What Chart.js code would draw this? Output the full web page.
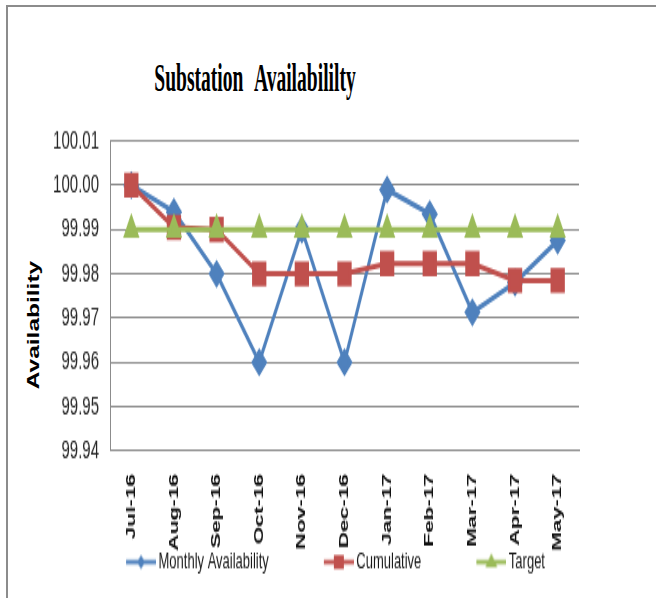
<!DOCTYPE html>
<html>
<head>
<meta charset="utf-8">
<script src="https://cdn.jsdelivr.net/npm/chart.js@4"></script>
<style>
  html, body { margin: 0; padding: 0; background: #fff; }
  body { width: 656px; height: 598px; position: relative; overflow: hidden; }
  #frame { position: absolute; left: 6px; top: 5px; width: 700px; height: 700px;
           border-top: 2px solid #8c8c8c; border-left: 2px solid #8c8c8c; }
  /* the reference is stretched vertically, so the chart is drawn short and scaled */
  #myChart { position: absolute; left: 0; top: 0; transform: scaleY(1.7485); transform-origin: 0 0; }
  #title { position: absolute; left: 0; top: 58px; width: 510px; text-align: center; white-space: nowrap;
           font: bold 23px "Liberation Serif", "Times New Roman", serif; line-height: 1; word-spacing: 8px;
           color: #000; transform: scale(0.85, 1.75); transform-origin: 50% 0; }
  #ytitle { position: absolute; left: 33px; top: 325px; white-space: nowrap;
            font: bold 14px "Liberation Sans", Arial, sans-serif; line-height: 1; color: #000;
            transform: translate(-50%, -50%) scale(1.15, 1.75) rotate(-90deg); }
</style>
</head>
<body>
<div id="frame"></div>
<div id="title">Substation Availabililty</div>
<div id="ytitle">Availability</div>
<canvas id="myChart" width="656" height="342"></canvas>
<script>
// months on the x axis
const months = ['Jul-16', 'Aug-16', 'Sep-16', 'Oct-16', 'Nov-16', 'Dec-16',
                'Jan-17', 'Feb-17', 'Mar-17', 'Apr-17', 'May-17'];

// values
const monthly = [100.000, 99.994, 99.980, 99.960, 99.990, 99.960, 99.999, 99.9935, 99.9713, 99.978, 99.9875];
const cumulative = [100.000, 99.9905, 99.990, 99.980, 99.980, 99.980, 99.9823, 99.9823, 99.9823, 99.9785, 99.9785];
const target = [99.99, 99.99, 99.99, 99.99, 99.99, 99.99, 99.99, 99.99, 99.99, 99.99, 99.99];

const seriesNames = ['Monthly Availability', 'Cumulative', 'Target'];
const yMin = 99.94;
const yMax = 100.01;

const blue = '#4f81bd';
const red = '#c0504d';
const green = '#9bbb59';

const legendBox = 81;

/**
 * Small legend icon: a short line with the marker in its middle,
 * drawn at the right end of a wider transparent canvas for spacing
 */
function legendIcon(color, shape) {
    let c = document.createElement('canvas');
    c.width = legendBox + 8;
    c.height = 16;
    let g = c.getContext('2d');
    let x0 = c.width - 30, xm = c.width - 15, ym = 8;
    g.strokeStyle = color;
    g.lineWidth = 2.5;
    g.beginPath(); g.moveTo(x0, ym); g.lineTo(c.width, ym); g.stroke();
    g.fillStyle = color;
    g.beginPath();
    if (shape == 'diamond') {
        g.moveTo(xm, ym - 4); g.lineTo(xm + 4, ym); g.lineTo(xm, ym + 4); g.lineTo(xm - 4, ym);
    } else if (shape == 'square') {
        g.rect(xm - 5, ym - 4, 10, 8);
    } else {
        g.moveTo(xm, ym - 5); g.lineTo(xm + 6, ym + 3); g.lineTo(xm - 6, ym + 3);
    }
    g.closePath();
    g.fill();
    return c;
}
const icons = [legendIcon(blue, 'diamond'), legendIcon(red, 'square'), legendIcon(green, 'triangle')];

let ctx = document.getElementById('myChart').getContext('2d');
let myChart = new Chart(ctx, {
    type: 'line',
    data: {
        labels: months,
        datasets: [{
            label: seriesNames[0],
            data: monthly,
            borderColor: blue,
            backgroundColor: blue,
            borderWidth: 3,
            pointStyle: 'rectRot',
            pointRadius: 6,
            order: 3
        }, {
            label: seriesNames[1],
            data: cumulative,
            borderColor: red,
            backgroundColor: red,
            borderWidth: 3,
            pointStyle: 'rect',
            pointRadius: 8,
            order: 2
        }, {
            label: seriesNames[2],
            data: target,
            borderColor: green,
            backgroundColor: green,
            borderWidth: 3,
            pointStyle: 'triangle',
            pointRadius: 6.5,
            order: 1
        }]
    },
    options: {
        responsive: false,
        animation: false,
        layout: { padding: { left: 37, right: 77, top: 80.6, bottom: 4.1 } },
        plugins: {
            tooltip: { enabled: false },
            legend: {
                position: 'bottom',
                labels: {
                    usePointStyle: true,
                    pointStyleWidth: legendBox,
                    padding: 0,
                    color: '#1a1a1a',
                    font: { family: 'Liberation Sans', size: 13 },
                    sort: (a, b) => a.datasetIndex - b.datasetIndex,
                    generateLabels: function (chart) {
                        let items = Chart.defaults.plugins.legend.labels.generateLabels(chart);
                        items.forEach(it => { it.pointStyle = icons[it.datasetIndex]; });
                        return items;
                    }
                }
            }
        },
        scales: {
            x: {
                offset: true,
                grid: { display: false },
                border: { display: true, color: '#8c8c8c', width: 1 },
                ticks: {
                    minRotation: 90,
                    maxRotation: 90,
                    autoSkip: false,
                    padding: 5,
                    color: '#111',
                    font: { family: 'Liberation Sans', size: 13, weight: 'bold' }
                },
                afterFit: function (scale) { scale.height = 57; }
            },
            y: {
                min: yMin,
                max: yMax,
                grid: { color: '#8c8c8c', lineWidth: 1, drawTicks: false },
                border: { display: true, color: '#8c8c8c', width: 1 },
                ticks: {
                    stepSize: 0.01,
                    padding: 11,
                    color: '#262626',
                    font: { family: 'Liberation Sans', size: 15 },
                    callback: v => v.toFixed(2)
                },
                afterFit: function (scale) { scale.width = 73; }
            }
        }
    }
});
</script>
</body>
</html>
